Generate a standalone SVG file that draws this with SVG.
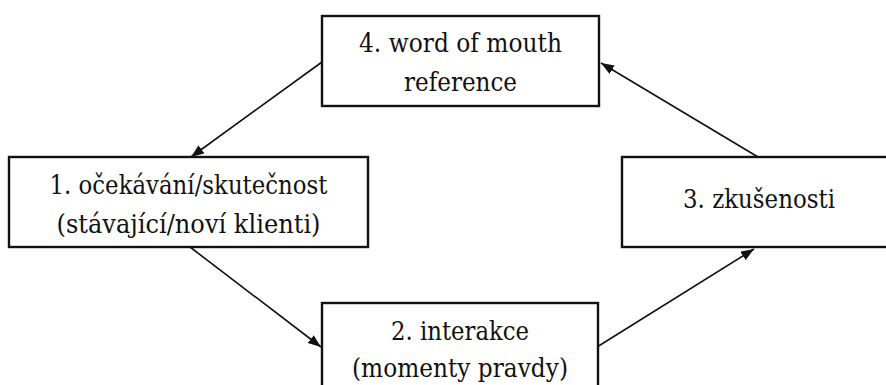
<svg xmlns="http://www.w3.org/2000/svg" width="886" height="385" viewBox="0 0 886 385">
<style>
.box{fill:#fff;stroke:#111;stroke-width:2.4}
.t{font-family:'DejaVu Serif',serif;font-size:26px;fill:#111;text-anchor:middle}
.c{stroke:#111;stroke-width:1.6;fill:none;marker-end:url(#ah)}
</style>
<defs>
<marker id="ah" markerUnits="userSpaceOnUse" markerWidth="14" markerHeight="12" refX="13" refY="5" orient="auto">
<path d="M0,0 L13,5 L0,10 Z" fill="#111"/>
</marker>
</defs>
<rect width="886" height="385" fill="#fff"/>
<g id="connectors">
<line class="c" x1="322" y1="62" x2="191" y2="157"/>
<line class="c" x1="190" y1="247" x2="321" y2="347"/>
<line class="c" x1="597" y1="347" x2="754" y2="249"/>
<line class="c" x1="758" y1="157" x2="601" y2="63"/>
</g>
<g id="node4">
<rect class="box" x="322" y="16" width="277" height="90"/>
<text class="t" x="460.5" y="52" textLength="203" lengthAdjust="spacingAndGlyphs">4. word of mouth</text>
<text class="t" x="460.5" y="90.5" textLength="113" lengthAdjust="spacingAndGlyphs">reference</text>
</g>
<g id="node1">
<rect class="box" x="9" y="157" width="359" height="90"/>
<text class="t" x="188.5" y="194" textLength="278" lengthAdjust="spacingAndGlyphs">1. očekávání/skutečnost</text>
<text class="t" x="188.5" y="232.5" textLength="264" lengthAdjust="spacingAndGlyphs">(stávající/noví klienti)</text>
</g>
<g id="node3">
<rect class="box" x="622" y="157" width="275" height="90"/>
<text class="t" x="759" y="208" textLength="152" lengthAdjust="spacingAndGlyphs">3. zkušenosti</text>
</g>
<g id="node2">
<rect class="box" x="322" y="303" width="276" height="95"/>
<text class="t" x="460" y="339.5" textLength="138" lengthAdjust="spacingAndGlyphs">2. interakce</text>
<text class="t" x="460" y="377" textLength="216" lengthAdjust="spacingAndGlyphs">(momenty pravdy)</text>
</g>
</svg>
